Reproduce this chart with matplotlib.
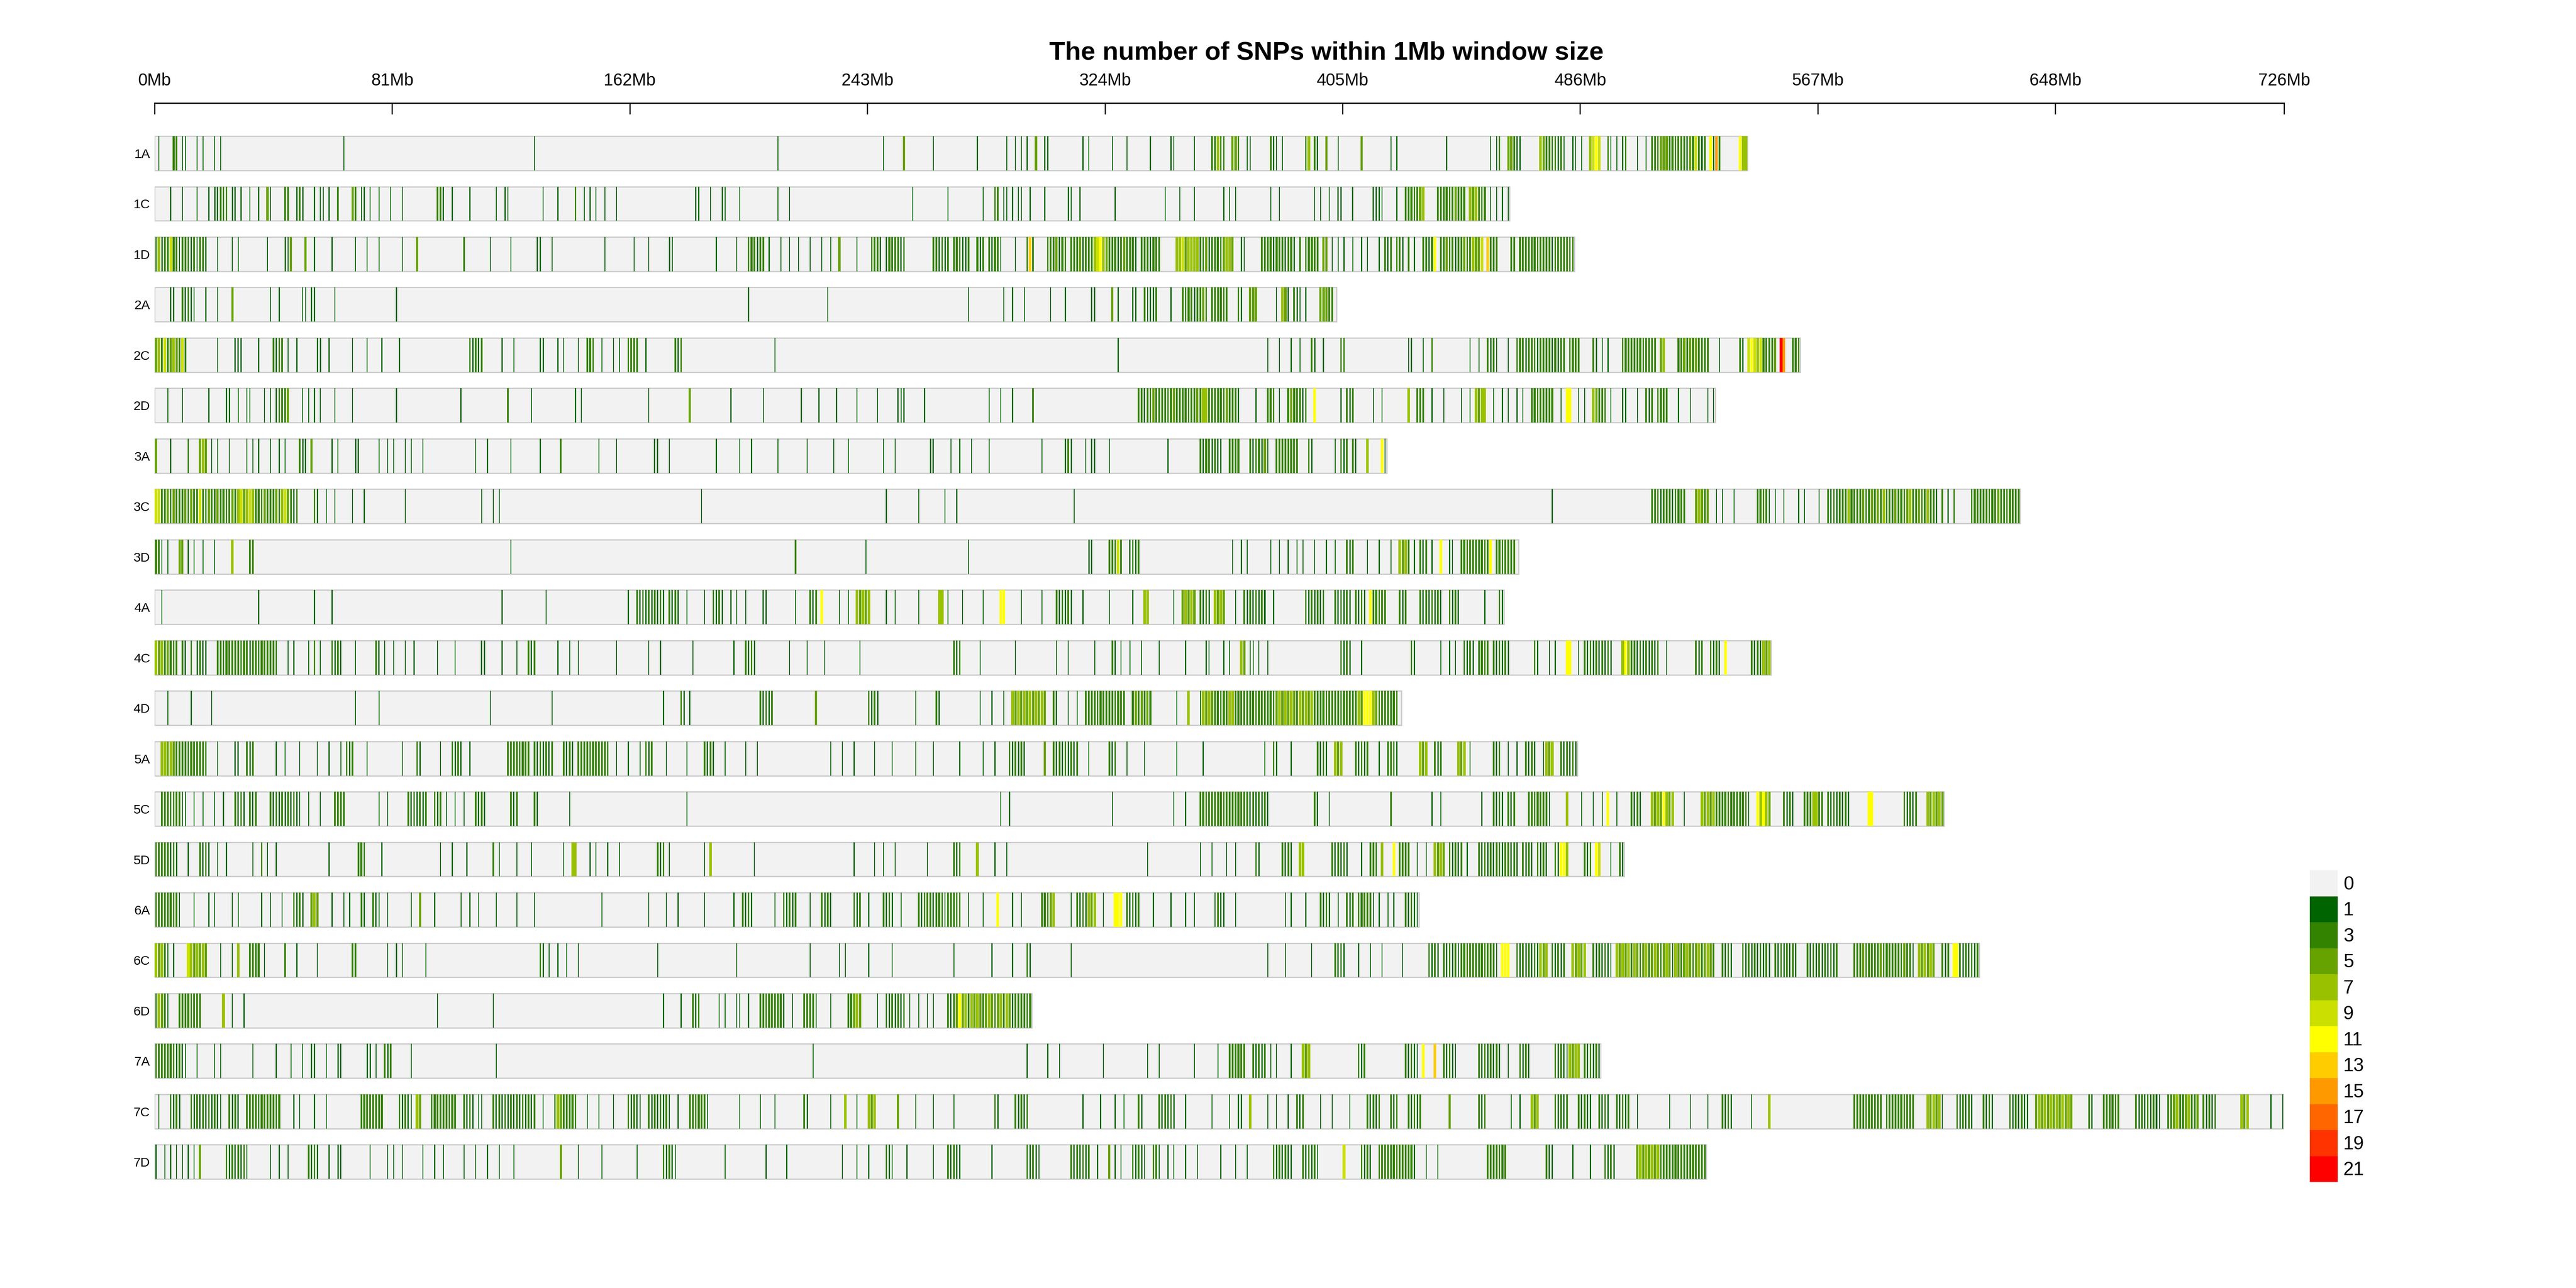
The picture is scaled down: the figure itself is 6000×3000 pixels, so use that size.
import numpy as np
import matplotlib
matplotlib.use("Agg")
import matplotlib.pyplot as plt
from matplotlib.patches import Rectangle
from matplotlib.colors import ListedColormap, BoundaryNorm

plt.rcParams['font.family'] = ['Liberation Sans', 'DejaVu Sans']

# chromosome names and lengths (Mb)
chroms = ["1A", "1C", "1D", "2A", "2C", "2D", "3A", "3C", "3D", "4A", "4C",
          "4D", "5A", "5C", "5D", "6A", "6C", "6D", "7A", "7C", "7D"]
chrom_len = [543, 462, 484, 403, 561, 532, 420, 636, 465, 460, 551,
             425, 485, 610, 501, 431, 622, 299, 493, 726, 529]

tick_pos = [0, 81, 162, 243, 324, 405, 486, 567, 648, 726]
tick_labels = ["0Mb", "81Mb", "162Mb", "243Mb", "324Mb", "405Mb", "486Mb",
               "567Mb", "648Mb", "726Mb"]

legend_labels = ["0", "1", "3", "5", "7", "9", "11", "13", "15", "17", "19", "21"]
legend_colors = ["#F2F2F2", "#006400", "#338300", "#66A200", "#99C100", "#CCE000",
                 "#FFFF00", "#FFCC00", "#FF9900", "#FF6600", "#FF3300", "#FF0000"]

# SNPs per 1Mb window.
# "w" -> 1 SNP in window w, "w:n" -> n SNPs, "w=abc" -> consecutive windows (base-36 digits)
snp_1A = ("1 6=44 9 10 14 16 20 22 64 129 212 248 255=5 265 280 290 293 295 297=2 300=6 303 304=2 "
          "316 318 326 331 339 346 347 354 360=3473 364=3 367=563 372 373 380=321 384 392=37 395=32 "
          "399=5 403 411=5 421 423 440 455 457 458=3 461=5631 465 472=853433231 483 484 486 489=79b9 "
          "495=31 498 500 501=3 505 508 510=3435653433432 523=5493 527=2 528=3 530=b2g3 540=b77")
snp_1C = ("5 9 14 18 20=22 22=333 26=22 29 32 35 38=6 39 44=33 48=232 54 56 57 59 62=4 67=53 70 71 73 "
          "76 80 84 96=332 101 107 116 119 120 132 137=2 143=3 146 148 150 153 157 184=21 189 193=21 "
          "199 212 216 258 270 282 286=33 289 290 292 294 295 298 303 311=21 315 327 344 349 354 364 "
          "366 368 380 383 395 397 400 403=21 408=2 415=21 417 418 423 426=3343367 437=333 440=4345 "
          "444=434 448=767 451=434 455 457 459 461")
snp_1D = ("0=3724394313432313420 21 26 28 38 44=215 51=5 54 60 68 72 76 84 89=6 105=3 114 121 130=22 "
          "135 153 163 168 175=21 191 198 202=343243 209 213 216 219 223 227 230 233=6 239 "
          "244=343202433423 265=3413240343223 280=4230324310 293 297=3d3 304=3435243034352434 "
          "320=79b75 325=434235434203432434 348=77958777 356=43524343 364=5775 370=21 377=343424 "
          "383=43234203 392=34434 398=55 401 403 405 408 411 413 417 419=323 423=34203 429 "
          "432=3424b 438=43534243534 449=8659 454=d333 462=33 465=4343 469=3434 473=43423434 481=333")
snp_2A = ("5 6 9=323 12 13 17 21 26=5 39 42 50 51 53 54 61 82 202 229 277 289 292 296 305 310 319=22 "
          "326=5 328 333=22 337=31213 346 350=3343243530343433000320 373=565 382 384=76 386 388=32 "
          "390 392 397=56534")
snp_2C = ("0=57393575393 21 27=222 35 40=3233 45 48 55=22 59 67 72 77 83 107=32323 118 122 131=22 137 "
          "139 144 147=343 152 156 158 161=3434 167 177=323 211 328 379 383 387 390 394=32 398 404=33 "
          "427 428 432 435=3 448 451 454=323 457 461 464=343243 470=32 472=34 474=3424233 482=3434 "
          "490=32 493 495=2 500=34343 505=3434334 513=57 519=44535454343 533 540=32 543=9b97 547=9 "
          "548=43435 554=lf 558=343")
snp_2D = ("4 9 18 24=22 28 31 32 37 39 41 42=3435 50 52 54 56 61 67 82 104=2 120=3 128 143 145 168 "
          "182=5 196 207 220 226 232 239 246 253=212 262 284 288 292 299=3 "
          "335=34243534343453434343547743434353432 375 379=343 383 386=4543 390=323 395:11 404 "
          "406=323 415 418 427=7 430=343 435 439 445 448 450=7587 456 459 461 464 466 469=34343434 "
          "479 481=bb 485 487 490=75343 496 500 501 505 508=323 512=3434 519 523 529 531")
snp_3A = ("0=5 5 11=3 15=575 19 21 25 31 33 35 39 42 44 49=322 53=5 60 62 68=22 76 79 81 85 87 91 109 "
          "113 121 131 138=3 151 157 170=22 175 191 199 203 212 222 231 236 248 252 264=22 271 274 "
          "278 284 302 310=232 317 319=22 325 345 356=3243232 363 366=3434 373=32 375=3425 379 "
          "382=343 385=43434 393=32 402 404=323 408=32 413=7 418:11 419")
snp_3C = ("0=a943535343535439435345343453795797343534353795323 54=32 58 61 67 71 85 111 115 117 186 "
          "249 260 269 273 313 476 510=343234323434 525=57545 532 534 538 546=3434 550 552 555 560 "
          "562 567 570=3232 574=34374343534535473 591=435343574353473 606=32030203 "
          "619=34343334353434343")
snp_3D = ("0=43 2 4 8=55 11 13 16 20 26=7 32=33 121 218=3 242 277 318=22 325=34393 332=2323 367 370 "
          "372 380 383 386 389 391 395 399 402 406=323 413 417 421 424=7573 429 431=323 435 438:11 "
          "441 442 445=3434343434 455:11 457=3434343")
snp_4A = ("2 35 54 60 118 133 161 164=3232323232 175=3232 181 187 190=3232 196 198 201 207=22 218 "
          "223=323 227:11 233 236 239=75757 249 252 260 267=77 270 275 282 288=bb 295 302 "
          "307=323232 316 325 333 337=77 347 350=57575 356=3232 361=7575 368 371=32323232 381 "
          "392=3232323 402=323232 409=3232 414=b3 416=4343 424=323 431=32323232 441=3232 453 458=32")
snp_4C = ("0=7573543 7=3032030232 17 21=343434343432343434343 45 47 52 54=3 56 60=3232 68 75=32 78 "
          "81 85 88 96 102 111=22 118 123 127=323 137 141 144 157 168 172 183 197 201=3232 216 222 "
          "228 240 272=323 281 293 307 311 320 326=32 329 332 336 342 351 358 359 364 366 370=75 373 "
          "374 376 379 404=3232 411 428=32 438 441 443 446=3232 451=3434 456=323232 470=32 475 477 "
          "481=bb 485 487=3232 491=323232 500=7b73 504=323232 510=323 515 525=323 530=3232 535:11 "
          "544=3232757")
snp_4D = ("4 12 19 68 76 114 135 173 179=3202 206=32323 225=5 243=3232 259 266=32 281 285 289 "
          "292=7575757 299=57575 306=32 311 314 317=34343434343434 333=4545454 348 352=7 356 "
          "357=7575343437734343343434343575757547575734343343434343475bbb753434343")
snp_5A = ("2=7757534343434343 21 27=22 31=323 41 44 49 55 59 63 65=323 72 84 89=32 97 101=3232 107 "
          "120=34343434 129=3232323 139=3232 144=34343434343 157 161 165 167=323 174 181 187=3232 "
          "194 201 205 230 234 238=2 245 251 259 265 274=2 282 286 291=323232 303=5 306=323232323 "
          "318 325=323 331 337 348 357 378 381=32 387 396=3232 402=757 409=32323 417 420=343 423 "
          "431=757 436=323 444=757 448 456=323 461 464 467=3232 473 474=757 479=323232")
snp_5C = ("2=3333333 9 10 13 16 20 23 27=3232 32=323 39=3232323232 49 52 56 61=3433 76 79 86=3232323 "
          "95=323 99 102 105 109=3232 121=323 129=32 141 181 288 291 326 347 351 356=3434343434343434 "
          "372=32323232 395=32 400 421=3 435 438 452 456=3232 461=323 468=3434343 475 481=7 486 490 "
          "493 495:11 498 503=3232 510=7575b757 521 527=75757 532=34343434343 543 546=b7b75 "
          "555=3232 562=3437743 570=32323232 584=bb 596=32323 604=757575")
snp_5D = ("0=34343232 11 15=3232 21 24 33 36=3 38 41 59 69=343 77 97 101 106 115=3 117 123 128 139 "
          "142=77 148 150 154 158 171=323 175 187 189=7 204 238 245 248 252 263 272=323 280=7 286 "
          "290 338 356 360 365 368 375=32 384=3232 390=77 401=323232 411 414=343 418=7 422:11 "
          "424=3434 430 433 436=7575 441=32323 447 451=3232 455=323 458=323 461=3232 466=3232 "
          "471=3232 477=32 479=bb7 487=323 491=b9 496 499=32")
snp_6A = ("0=34343434 8 13 18 20 26 28 36 39 43 47=3232 53=575 60 64 66 70=32 74=32 76 79 87 90=5 "
          "95 104 107 110 116 123 129 152 168 174 178 187 197 200=3232 211 214=32323 223 227=3232 "
          "238=323 243 248=3232 254 260=323432343 269 270=33433 277 282 287:11 292 295 302=34357 "
          "312 314=3232 318=757 323 327=bbb 331=32323 340 346 351 354 361 362=32 364 368 385 387 "
          "392 397=3232 403 406=323 410=34343 415 417 420 422 426=3232 430")
snp_6C = ("0=7573 4 6 11=9 12=757575 22 26 28=7 32=3434 37 44=3 48 55 67=33 79 82 84 92 131=32 134 "
          "137 140 144 171 198 223 233 235 243 251 272 285 292 297=32 312 379 385 394 402=3232 410 "
          "414 418 425 434=3232 439=32323 444 445=343434343434 457 459=bbb 464=3232323 471 472=757 "
          "476=32323 483=75757 490=323232 496 498=757 501=5737535735753575 517 "
          "518=75357535735753 534=3232 541=3232323232 552=32323232 563=32323232323 "
          "579=34353434353434343534 599 601=757575 609=323 613=bb 615=3232323")
snp_6D = ("0=3753 4 8=34343434 23=7 26 30 96 115 173 179 183=323 192 194 198 199 202 206=34343434 "
          "214 217 221=3434 225 230 236=34575 246 249=3232323 257 260 263 265 270=3235b "
          "275=57375753575357375 292 293=343434")
snp_7A = ("0=3343343232 10 14 20 22 33 41 46 50 53=22 58 62=22 72=22 75 78=323 87 116 224 297 304 "
          "308 323 338 342 354 362 366=343434 374=32323 380 382 387 391=757 410=323 426=3232 430 "
          "432:11 436:13 439=3232 443 451=3232 455=3232 461 465=3232 477=3232 481 482=7577 487=32 "
          "489=3232")
snp_7C = ("1 5=3232 12=3232323232 22 25=3232 31=343434343434 47 49 54 58 70=34343434 83=3232 87 "
          "89=75 94=343434343 105=3232 110 111 115=323232323232323 132 136=37534343 147 151 156 "
          "161=3232 165 168=3232323 175 178 182=343434 188 199 206 211 221=32 230 235=7 239 243=757 "
          "253=5 259 265 272 286=32 293=32323 316 322 327 330 335=32 342=323232 351 360 366 369 370 "
          "373=7 379 382 386 389=323 397 401 407 413=32323 421=323 427=32323 441=5 451=323 462 465 "
          "469=757 477=32323 485=3232 489 492=3232 498=32323 505 516 523 529 534=3232 544 550=7 "
          "579=3434343434 590=3434343434 604=75757 609 614=323232 623=3232 632=323232 638 "
          "641=5757575757575 659=32 664=343434 675=32323232 683 686=34573457345 698=32323 711=757 "
          "721 725")
snp_7D = ("0 3 5 7 9 11 13 15=5 24=3232323 31 39 42 45 52=3232 59 62=22 73 79 81 84 91 95 98 105 109 "
          "113 117 122 138=5 144 152 164 173=3232 177 194 208 215 234 239 243 249=32 251 256 265 "
          "270=3232 274 285 297=3232 301 312=3232323 321 325=5 327 329 333=3232 337 340=33 342 345 "
          "347 351 355 363 368 372 381=323232 387 391=32323 396 405=9 411=3232 417=343434343434 429 "
          "433 437 454=3434343 474=32 476 483 489 494=3232 505=57575757 513=3434343434343434")

snp_data = [snp_1A, snp_1C, snp_1D, snp_2A, snp_2C, snp_2D, snp_3A, snp_3C, snp_3D, snp_4A,
            snp_4C, snp_4D, snp_5A, snp_5C, snp_5D, snp_6A, snp_6C, snp_6D, snp_7A, snp_7C, snp_7D]


def window_counts(spec, n):
    counts = np.zeros(n, dtype=int)
    for tok in spec.split():
        if "=" in tok:
            start, digits = tok.split("=")
            for k, ch in enumerate(digits):
                if int(start) + k < n:
                    counts[int(start) + k] = int(ch, 36)
        elif ":" in tok:
            w, c = tok.split(":")
            counts[int(w)] = int(c)
        else:
            counts[int(tok)] = 1
    return counts


cmap = ListedColormap(legend_colors[1:])
norm = BoundaryNorm(np.arange(0.5, 23, 2), cmap.N)

fig = plt.figure(figsize=(20, 10), dpi=300)
ax = fig.add_axes([0.06, 0.0783, 0.8267, 0.8417])
ax.set_xlim(0, 726)
ax.set_ylim(20.5, -0.996)

half = 0.34
for i, (name, L, spec) in enumerate(zip(chroms, chrom_len, snp_data)):
    ax.add_patch(Rectangle((0, i - half), L, 2 * half, facecolor="#F2F2F2",
                           edgecolor="#CCCCCC", linewidth=0.7, zorder=1))
    counts = window_counts(spec, L)
    w = np.nonzero(counts)[0]
    c = counts[w]
    widths = np.minimum(0.9, 0.34 + 0.1 * (c - 1))
    ax.bar(w + 0.5, 2 * half, bottom=i - half, width=widths, color=cmap(norm(c)),
           linewidth=0, antialiased=False, zorder=2)

for s in ["left", "right", "bottom"]:
    ax.spines[s].set_visible(False)
ax.spines["top"].set_linewidth(0.7)
ax.xaxis.set_ticks_position("top")
ax.set_xticks(tick_pos)
ax.set_xticklabels(tick_labels)
ax.tick_params(axis="x", direction="in", length=6.2, width=0.65, labelsize=9.5, pad=8)
ax.set_yticks(range(len(chroms)))
ax.set_yticklabels(chroms)
ax.tick_params(axis="y", length=0, labelsize=7.3, pad=2.5)

fig.text(0.515, 0.959, "The number of SNPs within 1Mb window size", ha="center", va="center",
         fontsize=14.5, fontweight="bold")

# legend
lax = fig.add_axes([5380 / 6000, 247 / 3000, 65 / 6000, 726 / 3000])
lax.set_xlim(0, 1)
lax.set_ylim(len(legend_colors), 0)
lax.axis("off")
for k, (col, lab) in enumerate(zip(legend_colors, legend_labels)):
    lax.add_patch(Rectangle((0, k), 1, 1, facecolor=col, edgecolor="none"))
    lax.text(1.2, k + 0.55, lab, ha="left", va="center", fontsize=10.5, clip_on=False)

fig.savefig("out.png", dpi=300)
